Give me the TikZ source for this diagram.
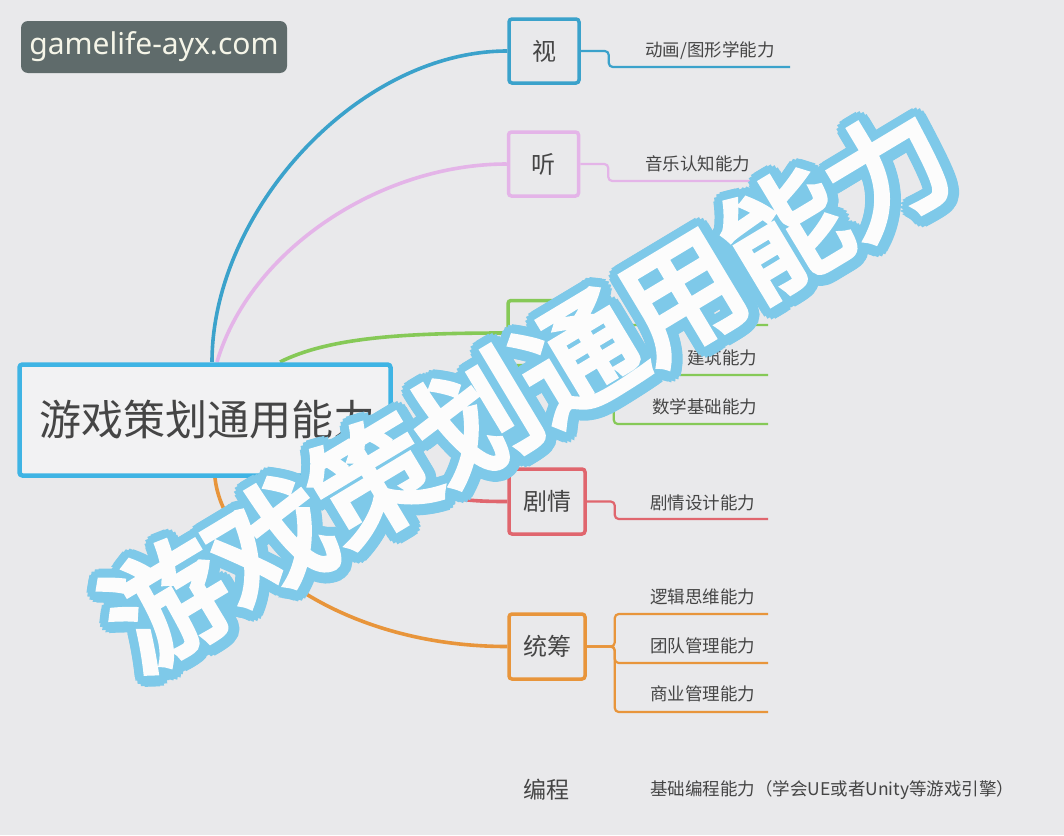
\documentclass[tikz,border=0pt]{standalone}
\usepackage{fontspec}
\setmainfont{Noto Sans}
\newfontfamily\cjk{Noto Sans CJK SC}
\newfontfamily\cjkfat[FakeBold=5]{Noto Sans CJK SC}
\usetikzlibrary{calc}

\definecolor{bgcol}{HTML}{E9E9EB}
\definecolor{rootcol}{HTML}{3FB4E4}
\definecolor{shicol}{HTML}{3BA2CB}
\definecolor{tingcol}{HTML}{E4B4E8}
\definecolor{kongcol}{HTML}{86C957}
\definecolor{jucol}{HTML}{E0666E}
\definecolor{tongcol}{HTML}{E8953B}
\definecolor{txtcol}{HTML}{454545}
\definecolor{wmcol}{HTML}{7EC9E9}
\definecolor{tagcol}{HTML}{5F6B6B}
\definecolor{tagtxt}{HTML}{F5F5E8}

\begin{document}
\begin{tikzpicture}[x=1pt, y=-1pt,
    root/.style={draw=rootcol, line width=4.5pt, rounded corners=3pt,
      fill=white!40!bgcol, minimum width=371pt, minimum height=111pt,
      text width=331pt, align=left, inner xsep=0pt,
      font=\cjk\fontsize{42}{42}\selectfont, text=txtcol},
    branch/.style={draw, line width=3.5pt, rounded corners=3pt, fill=bgcol,
      minimum width=70pt, minimum height=64pt,
      font=\cjk\fontsize{24}{24}\selectfont, text=txtcol},
    wide/.style={minimum width=76pt, minimum height=65pt},
    leaf/.style={anchor=west, inner sep=0pt,
      font=\cjk\fontsize{17.5}{17.5}\selectfont, text=txtcol},
    link/.style={line width=3.6pt},
    twig/.style={line width=2.2pt, rounded corners=4pt},
    wmark/.style={rotate=31, inner sep=0pt,
      font=\cjkfat\fontsize{120}{120}\selectfont}]

\fill[bgcol] (0,0) rectangle (1064,835);
\useasboundingbox (0,0) rectangle (1064,835);

% main branches
\coordinate (r1) at (212,362);
\coordinate (r2) at (217,362);
\coordinate (r3) at (280,362);
\coordinate (r4) at (390,470);
\coordinate (r5) at (215,478);

\node[branch, draw=shicol] (shi) at (544,51) {视};
\node[branch, draw=tingcol] (ting) at (543.5,164) {听};
\node[branch, wide, draw=kongcol] (kong) at (546,333) {};
\node[branch, wide, draw=jucol] (ju) at (547,501.5) {剧情};
\node[branch, wide, draw=tongcol] (tong) at (547,646.5) {统筹};
\node[branch, draw=none, fill=none, font=\cjk\fontsize{23}{23}\selectfont] (bian) at (546,790) {编程};

\draw[link, shicol] (r1) .. controls +(0,-150) and +(-150,0) .. (shi.west);
\draw[link, tingcol] (r2) .. controls +(33,-112) and +(-127,0) .. (ting.west);
\draw[link, kongcol] (r3) .. controls +(50,-25) and +(-100,0) .. (kong.west);
\draw[link, jucol] (r4) .. controls +(40,30) and +(-40,0) .. (ju.west);
\draw[link, tongcol] (r5) .. controls +(8,75) and +(-170,0) .. (tong.west);

\node[root] (root) at (205,420) {游戏策划通用能力};

% leaves
\node[leaf] (shi1) at (645,51) {动画/图形学能力};
\node[leaf] (ting1) at (645,164) {音乐认知能力};
\node[leaf] (kong2) at (687,358) {建筑能力};
\node[leaf] (kong3) at (652,407) {数学基础能力};
\node[leaf] (ju1) at (650,503) {剧情设计能力};
\node[leaf] (tong1) at (650,597) {逻辑思维能力};
\node[leaf] (tong2) at (650,646) {团队管理能力};
\node[leaf] (tong3) at (650,694) {商业管理能力};
\node[leaf] (bian1) at (650,790) {基础编程能力（学会UE或者Unity等游戏引擎）};

\coordinate (shi1e) at (790,67);
\coordinate (ting1e) at (768,181);
\coordinate (kong1e) at (768,325);
\coordinate (kong2e) at (768,375);
\coordinate (kong3e) at (768,424);
\coordinate (ju1e) at (768,519);
\coordinate (tong1e) at (768,614);
\coordinate (tong2e) at (768,663);
\coordinate (tong3e) at (768,712);

\draw[twig, shicol] (shi.east) -- ++(28,0) |- (shi1e);
\draw[twig, tingcol] (ting.east) -- ++(28,0) |- (ting1e);
\foreach \e in {kong1e,kong2e,kong3e}
  \draw[twig, kongcol] (kong.east) -- ++(28,0) |- (\e);
\draw[twig, jucol] (ju.east) -- ++(28,0) |- (ju1e);
\foreach \e in {tong1e,tong2e,tong3e}
  \draw[twig, tongcol] (tong.east) -- ++(28,0) |- (\e);

% watermark
\coordinate (wmc) at (528,388);
\foreach \a [count=\i] in {0,22.5,...,337.5}
  \node[wmark, text=wmcol] (wmo\i) at ($(wmc)+(\a:10)$) {游戏策划通用能力};
\node[wmark, text=wmcol] (wms) at ($(wmc)+(2,3)$) {游戏策划通用能力};
\node[wmark, text=white!85!bgcol] (wm) at ($(wmc)+(-1,-1)$) {游戏策划通用能力};

\node[fill=tagcol, rounded corners=7pt, minimum width=266pt, minimum height=52pt,
  text=tagtxt, font=\fontsize{30}{30}\selectfont] (tag) at (154,47) {gamelife-ayx.com};

\end{tikzpicture}
\end{document}
